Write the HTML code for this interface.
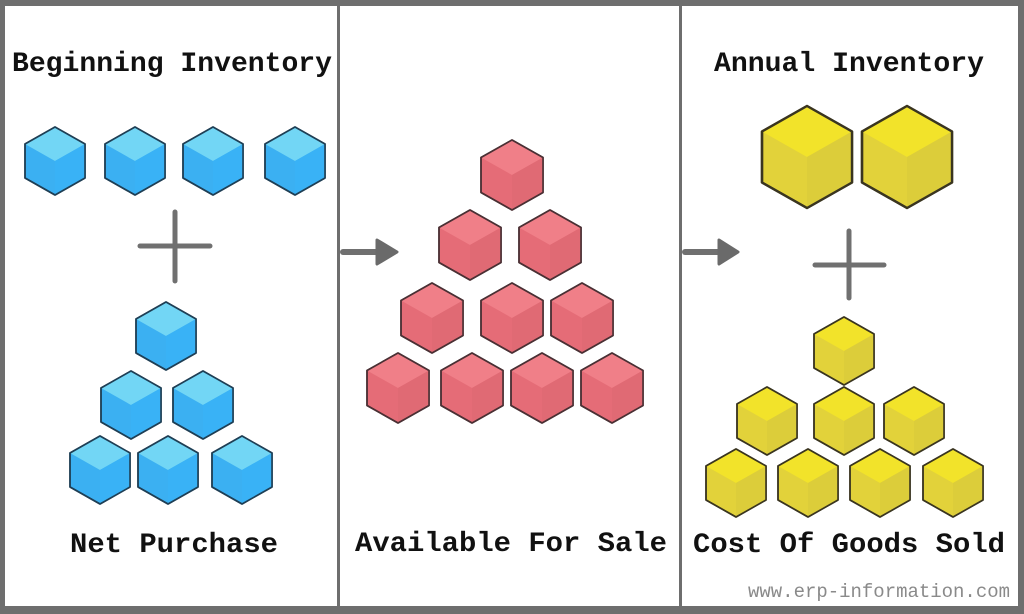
<!DOCTYPE html>
<html><head><meta charset="utf-8"><style>
html,body{margin:0;padding:0;background:#fff;}
svg{display:block;}
text{font-family:"Liberation Mono",monospace;font-weight:bold;fill:#111;}
</style></head><body>
<svg width="1024" height="614" viewBox="0 0 1024 614" xmlns="http://www.w3.org/2000/svg">
<defs>
<g id="bc" stroke="#1f3f55" stroke-width="1.6" stroke-linejoin="round">
<polygon points="0,-34 30,-17 30,17 0,34 -30,17 -30,-17" fill="#3bb0f2"/>
<polygon points="0,-34 30,-17 0,0 -30,-17" fill="#72d6f5" stroke="none"/>
<polygon points="0,0 30,-17 30,17 0,34" fill="#39b2f6" stroke="none"/>
<polygon points="0,-34 30,-17 30,17 0,34 -30,17 -30,-17" fill="none"/>
</g>
<g id="rc" stroke="#4a3034" stroke-width="1.6" stroke-linejoin="round">
<polygon points="0,-35 31,-17.5 31,17.5 0,35 -31,17.5 -31,-17.5" fill="#e56c77"/>
<polygon points="0,-35 31,-17.5 0,0 -31,-17.5" fill="#f07f88" stroke="none"/>
<polygon points="0,0 31,-17.5 31,17.5 0,35" fill="#e06a74" stroke="none"/>
<polygon points="0,-35 31,-17.5 31,17.5 0,35 -31,17.5 -31,-17.5" fill="none"/>
</g>
<g id="yc" stroke="#3a3520" stroke-width="1.6" stroke-linejoin="round">
<polygon points="0,-34 30,-17 30,17 0,34 -30,17 -30,-17" fill="#e2d23a"/>
<polygon points="0,-34 30,-17 0,0 -30,-17" fill="#f2e32a" stroke="none"/>
<polygon points="0,0 30,-17 30,17 0,34" fill="#dccd3a" stroke="none"/>
<polygon points="0,-34 30,-17 30,17 0,34 -30,17 -30,-17" fill="none"/>
</g>
</defs>
<rect x="0" y="0" width="1024" height="614" fill="#fff"/>
<!-- frame -->
<rect x="0" y="0" width="1024" height="6" fill="#6e6e6e"/>
<rect x="0" y="606" width="1024" height="8" fill="#6e6e6e"/>
<rect x="0" y="0" width="5" height="614" fill="#6e6e6e"/>
<rect x="1018" y="0" width="6" height="614" fill="#6e6e6e"/>
<rect x="337" y="0" width="3" height="614" fill="#6e6e6e"/>
<rect x="679" y="0" width="3" height="614" fill="#6e6e6e"/>

<!-- blue -->
<use href="#bc" x="55" y="161"/><use href="#bc" x="135" y="161"/><use href="#bc" x="213" y="161"/><use href="#bc" x="295" y="161"/>
<use href="#bc" x="166" y="336"/>
<use href="#bc" x="131" y="405"/><use href="#bc" x="203" y="405"/>
<use href="#bc" x="100" y="470"/><use href="#bc" x="168" y="470"/><use href="#bc" x="242" y="470"/>
<g stroke="#707070" stroke-width="5" stroke-linecap="round">
<line x1="140" y1="246" x2="210" y2="246"/><line x1="175" y1="212" x2="175" y2="281"/>
<line x1="815" y1="265" x2="884" y2="265"/><line x1="849" y1="231" x2="849" y2="298"/>
<line x1="343" y1="252" x2="380" y2="252" stroke-width="6"/>
<line x1="685" y1="252" x2="722" y2="252" stroke-width="6"/>
</g>
<polygon points="377,240 397,252 377,264" fill="#6a6a6a" stroke="#6a6a6a" stroke-width="3" stroke-linejoin="round"/>
<polygon points="719,240 738,252 719,264" fill="#6a6a6a" stroke="#6a6a6a" stroke-width="3" stroke-linejoin="round"/>

<!-- red -->
<use href="#rc" x="512" y="175"/>
<use href="#rc" x="470" y="245"/><use href="#rc" x="550" y="245"/>
<use href="#rc" x="432" y="318"/><use href="#rc" x="512" y="318"/><use href="#rc" x="582" y="318"/>
<use href="#rc" x="398" y="388"/><use href="#rc" x="472" y="388"/><use href="#rc" x="542" y="388"/><use href="#rc" x="612" y="388"/>

<!-- yellow -->
<use href="#yc" transform="translate(807,157) scale(1.5)"/>
<use href="#yc" transform="translate(907,157) scale(1.5)"/>
<use href="#yc" x="844" y="351"/>
<use href="#yc" x="767" y="421"/><use href="#yc" x="844" y="421"/><use href="#yc" x="914" y="421"/>
<use href="#yc" x="736" y="483"/><use href="#yc" x="808" y="483"/><use href="#yc" x="880" y="483"/><use href="#yc" x="953" y="483"/>

<!-- labels -->
<text x="172" y="71" font-size="28" text-anchor="middle" textLength="320" lengthAdjust="spacingAndGlyphs">Beginning Inventory</text>
<text x="849" y="71" font-size="28" text-anchor="middle" textLength="270" lengthAdjust="spacingAndGlyphs">Annual Inventory</text>
<text x="174" y="552" font-size="28" text-anchor="middle" textLength="208" lengthAdjust="spacingAndGlyphs">Net Purchase</text>
<text x="511" y="551" font-size="28" text-anchor="middle" textLength="312" lengthAdjust="spacingAndGlyphs">Available For Sale</text>
<text x="849" y="552" font-size="28" text-anchor="middle" textLength="312" lengthAdjust="spacingAndGlyphs">Cost Of Goods Sold</text>
<text x="1010" y="597" font-size="19" text-anchor="end" font-weight="normal" style="fill:#8a8a8a;font-weight:normal" textLength="262" lengthAdjust="spacingAndGlyphs">www.erp-information.com</text>
</svg>
</body></html>
